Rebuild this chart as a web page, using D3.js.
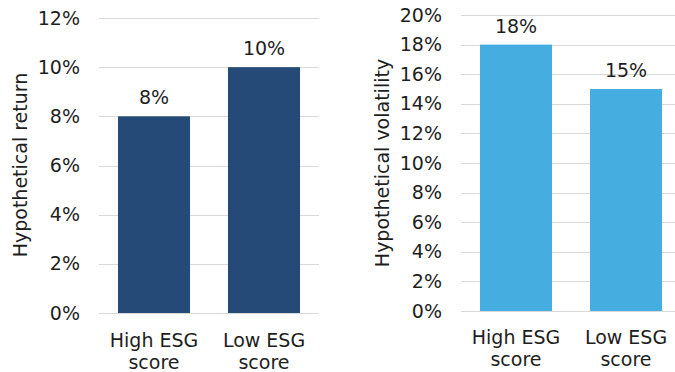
<!DOCTYPE html>
<html><head><meta charset="utf-8">
<script src="https://cdn.jsdelivr.net/npm/d3@7"></script>
<style>body{margin:0;background:#fff}svg{display:block}text{font-family:"DejaVu Sans",Verdana,sans-serif;fill:#1e1e1e}</style>
</head><body>
<script>
const categories = [["High ESG","score"],["Low ESG","score"]];
const returnValues = [0.08, 0.10];
const volatilityValues = [0.18, 0.15];
const returnTicks = [0,0.02,0.04,0.06,0.08,0.10,0.12];
const volTicks = [0,0.02,0.04,0.06,0.08,0.10,0.12,0.14,0.16,0.18,0.20];

const FS = 19;
const svg = d3.select("body").append("svg").attr("width",675).attr("height",372);
const fmt = d3.format(".0%");

function panel(cfg){
  const g = svg.append("g");
  const x = d3.scaleBand().domain(d3.range(categories.length)).range([cfg.x0,cfg.x1]).paddingInner(0.345).paddingOuter(0.1725);
  const y = d3.scaleLinear().domain([0,cfg.max]).range([cfg.yb,cfg.yt]);
  g.selectAll("line.grid").data(cfg.ticks).join("line")
    .attr("x1",cfg.x0).attr("x2",cfg.x1)
    .attr("y1",d=>Math.round(y(d))+0.5).attr("y2",d=>Math.round(y(d))+0.5)
    .attr("stroke","#d9d9d9").attr("stroke-width",1);
  const ax = d3.axisLeft(y).tickValues(cfg.ticks).tickFormat(fmt).tickSize(0).tickPadding(0);
  const ag = g.append("g").attr("transform",`translate(${cfg.labelX},0)`).call(ax);
  ag.select(".domain").remove();
  ag.selectAll("text").attr("font-size",FS).attr("font-family",'"DejaVu Sans",Verdana,sans-serif').attr("fill","#1e1e1e");
  g.selectAll("rect").data(cfg.values).join("rect")
    .attr("x",(d,i)=>x(i)).attr("width",x.bandwidth())
    .attr("y",d=>y(d)).attr("height",d=>y(0)-y(d))
    .attr("fill",cfg.color);
  g.selectAll("text.val").data(cfg.values).join("text").attr("class","val")
    .attr("x",(d,i)=>x(i)+x.bandwidth()/2).attr("y",d=>y(d)-12)
    .attr("text-anchor","middle").attr("font-size",FS).text(d=>fmt(d));
  categories.forEach((c,i)=>{
    c.forEach((line,j)=>{
      g.append("text").attr("x",x(i)+x.bandwidth()/2).attr("y",cfg.catY+j*22)
        .attr("text-anchor","middle").attr("font-size",FS).text(line);
    });
  });
  g.append("text").attr("transform",`translate(${cfg.titleX},${cfg.titleY}) rotate(-90)`)
    .attr("text-anchor","middle").attr("dominant-baseline","central").attr("font-size",FS).text(cfg.title);
}

panel({x0:99,x1:319,yb:313,yt:18,max:0.12,ticks:returnTicks,values:returnValues,color:"#264a78",
  labelX:80,catY:347,title:"Hypothetical return",titleX:20,titleY:165});
panel({x0:461,x1:681,yb:311,yt:15,max:0.20,ticks:volTicks,values:volatilityValues,color:"#45ade0",
  labelX:442,catY:344,title:"Hypothetical volatility",titleX:382,titleY:163});
</script>
</body></html>
